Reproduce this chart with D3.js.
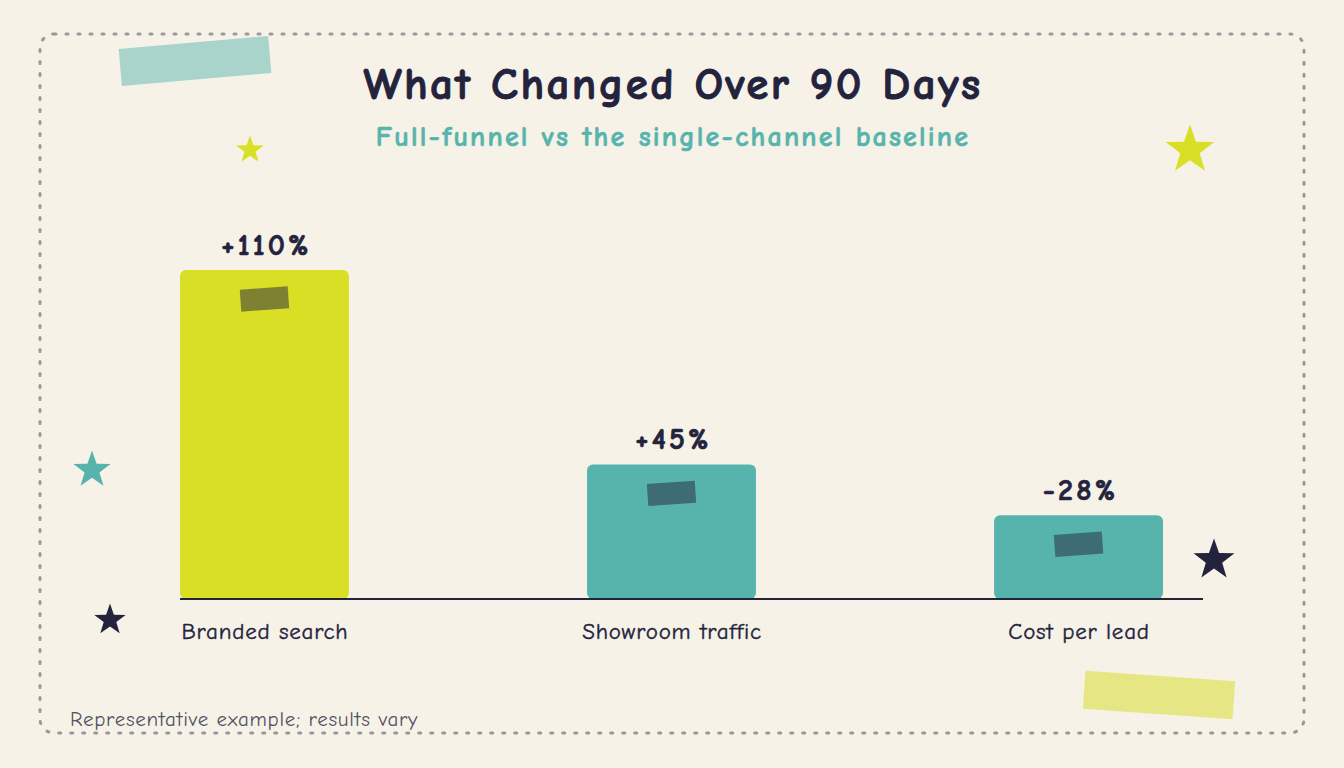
<!DOCTYPE html>
<html><head><meta charset="utf-8">
<script src="https://cdn.jsdelivr.net/npm/d3@7"></script>
<style>
html,body{margin:0;padding:0;background:#f6f2e7;}
svg{display:block;}
text{font-family:"Comic Neue","Comic Sans MS","Lato","Noto Sans",sans-serif;}
</style></head>
<body>
<svg id="chart" width="1344" height="768"></svg>
<script>
const categories = ["Branded search", "Showroom traffic", "Cost per lead"];
const values = [110, 45, -28];
const valueLabels = ["+110%", "+45%", "-28%"];
const barColors = ["#d9df24", "#57b4ad", "#57b4ad"];
const title = "What Changed Over 90 Days";
const subtitle = "Full-funnel vs the single-channel baseline";
const footnote = "Representative example; results vary";

const W = 1344, H = 768;
const ink = "#23233d";
const fontStack = '"Comic Neue","Comic Sans MS","Lato","Noto Sans",sans-serif';
const svg = d3.select("#chart");
svg.append("rect").attr("width", W).attr("height", H).attr("fill", "#f6f2e7");

// dashed frame
svg.append("rect").attr("x", 40).attr("y", 34).attr("width", 1264).attr("height", 699)
  .attr("rx", 14).attr("fill", "none").attr("stroke", "#9b989d").attr("stroke-width", 3)
  .attr("stroke-dasharray", "2 10").attr("stroke-linecap", "round");

// decorative tapes
function tape(cx, cy, w, h, angle, fill) {
  svg.append("rect").attr("x", -w/2).attr("y", -h/2).attr("width", w).attr("height", h)
    .attr("fill", fill).attr("transform", `translate(${cx},${cy}) rotate(${angle})`);
}
tape(195, 61, 150, 37, -5, "#a8d4cc");
tape(1159, 695, 150, 38, 4, "#e6e784");

// stars
function starPath(R) {
  const r = R * 0.4;
  const pts = [];
  for (let i = 0; i < 10; i++) {
    const a = -Math.PI/2 + i * Math.PI/5;
    const rad = i % 2 === 0 ? R : r;
    pts.push([rad*Math.cos(a), rad*Math.sin(a)]);
  }
  return d3.line()(pts) + "Z";
}
const stars = [
  {x:250, y:150, R:14.5, c:"#d9df24"},
  {x:1190, y:150, R:25.5, c:"#d9df24"},
  {x:92, y:470, R:19.5, c:"#57b4ad"},
  {x:110, y:620, R:16.5, c:ink},
  {x:1214, y:560, R:21.5, c:ink}
];
svg.selectAll(".star").data(stars).enter().append("path")
  .attr("d", d => starPath(d.R)).attr("transform", d => `translate(${d.x},${d.y})`)
  .attr("fill", d => d.c);

// titles
svg.append("text").attr("x", 673).attr("y", 99).attr("text-anchor", "middle")
  .attr("font-size", 45).attr("font-weight", 700).attr("letter-spacing", 2.4)
  .attr("fill", ink).attr("stroke", ink).attr("stroke-width", 0.9)
  .attr("stroke-linejoin", "round").text(title);
svg.append("text").attr("x", 673).attr("y", 146).attr("text-anchor", "middle")
  .attr("font-size", 28).attr("font-weight", 700).attr("letter-spacing", 2.2)
  .attr("fill", "#57b4ad").attr("stroke", "#57b4ad").attr("stroke-width", 0.6)
  .attr("stroke-linejoin", "round").text(subtitle);

// scales
const x = d3.scaleBand().domain(categories).range([180, 1163]).paddingInner(0.585).paddingOuter(0);
const y = d3.scaleLinear().domain([0, 110]).range([599, 270]);

const g = svg.append("g");
const data = categories.map((c, i) => ({c, v: values[i], l: valueLabels[i], col: barColors[i]}));

g.selectAll(".bar").data(data).enter().append("rect")
  .attr("x", d => x(d.c)).attr("y", d => y(Math.abs(d.v)))
  .attr("width", x.bandwidth()).attr("height", d => y(0) - y(Math.abs(d.v)))
  .attr("rx", 6).attr("fill", d => d.col);

// tape on bars
g.selectAll(".btape").data(data).enter().append("rect")
  .attr("x", -24).attr("y", -11).attr("width", 48).attr("height", 22)
  .attr("fill", ink).attr("fill-opacity", 0.5)
  .attr("transform", d => `translate(${x(d.c) + x.bandwidth()/2},${y(Math.abs(d.v)) + 29}) rotate(-4)`);

// value labels
g.selectAll(".vl").data(data).enter().append("text")
  .attr("x", d => x(d.c) + x.bandwidth()/2 + 2).attr("y", d => y(Math.abs(d.v)) - 15)
  .attr("text-anchor", "middle").attr("font-size", 30).attr("font-weight", 700)
  .attr("letter-spacing", 3.2)
  .attr("fill", ink).attr("stroke", ink).attr("stroke-width", 0.7)
  .attr("stroke-linejoin", "round").text(d => d.l);

// baseline axis
const axis = d3.axisBottom(x).tickSize(0).tickPadding(24);
const ax = svg.append("g").attr("transform", `translate(0,${y(0)})`).call(axis);
ax.select(".domain").remove();
ax.append("line").attr("x1", 180).attr("x2", 1203).attr("y1", 0).attr("y2", 0)
  .attr("stroke", ink).attr("stroke-width", 2);
ax.selectAll(".tick text").attr("font-size", 23).attr("fill", ink)
  .attr("letter-spacing", 0.8).attr("dx", 0.5)
  .attr("stroke", ink).attr("stroke-width", 0.4)
  .style("font-family", fontStack);

// footnote
svg.append("text").attr("x", 70).attr("y", 726).attr("font-size", 21)
  .attr("letter-spacing", 0.7)
  .attr("fill", "#525263").text(footnote);
</script>
</body></html>
